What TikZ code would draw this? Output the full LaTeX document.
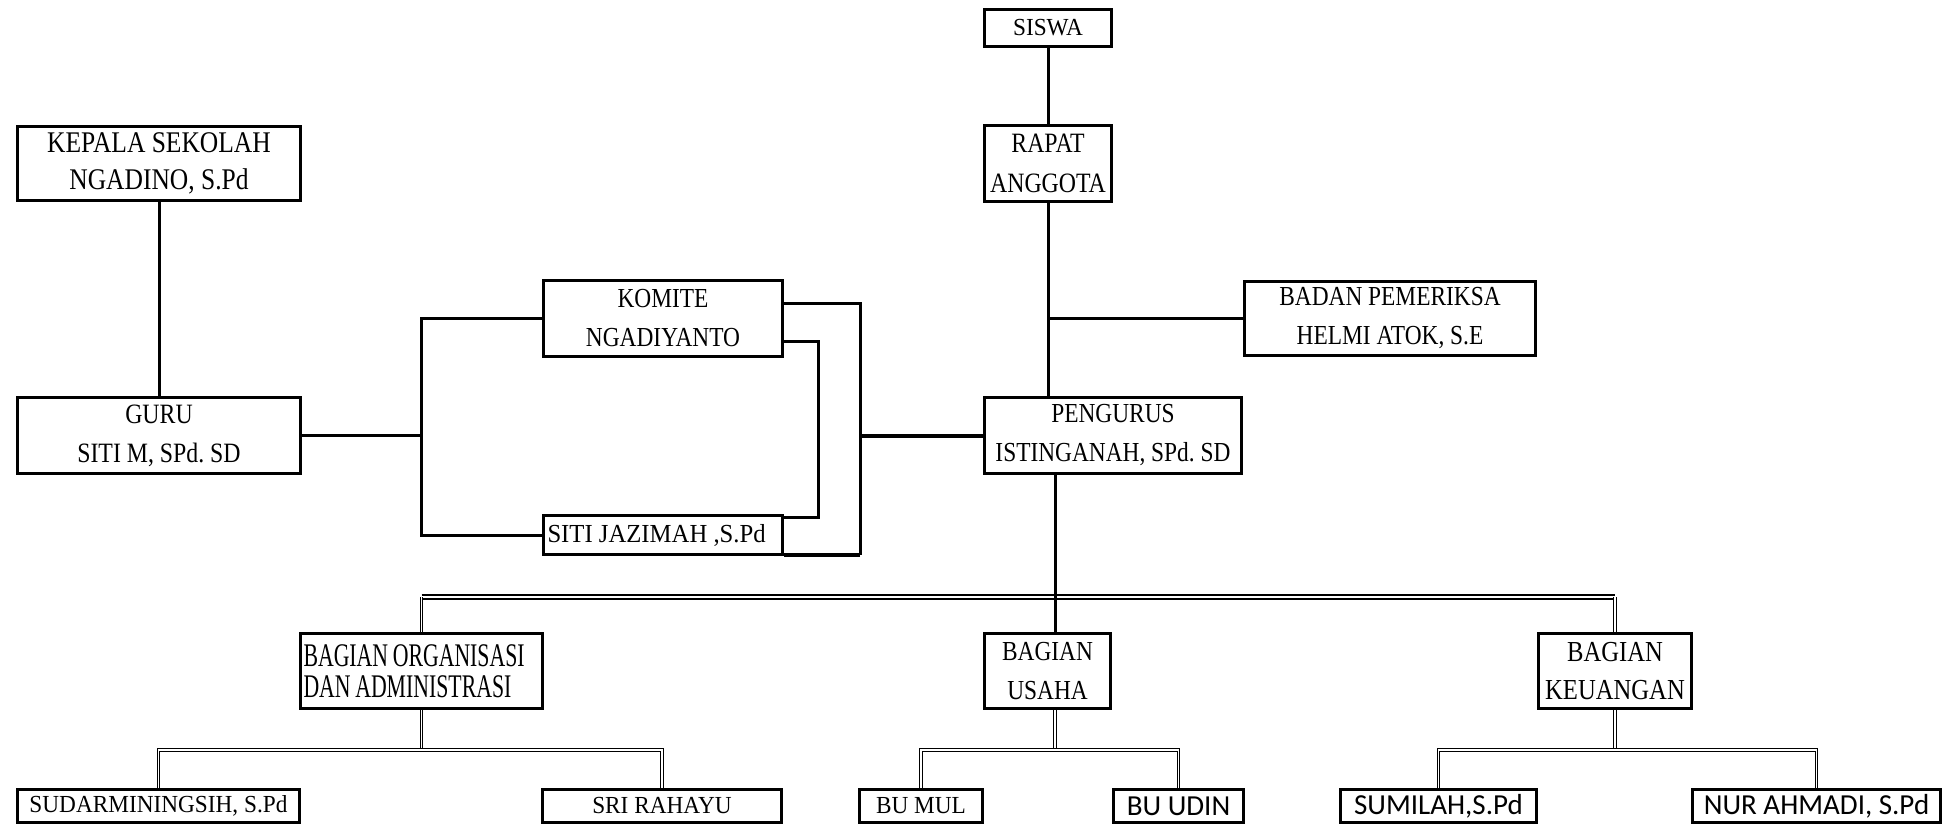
\documentclass[tikz,border=0pt]{standalone}
\usepackage{fontspec}
\setmainfont{Liberation Serif}[FakeStretch=0.85]
\newfontfamily\narrowserif{Liberation Serif}[FakeStretch=0.66, WordSpace=0.85]
\newfontfamily\wideserif{Liberation Serif}[FakeStretch=0.95]
\newfontfamily\calsans{Carlito}
\usetikzlibrary{calc, positioning}
\frenchspacing

\begin{document}
\begin{tikzpicture}[x=1pt, y=-1pt,
    box/.style={draw, line width=3pt, inner sep=0pt, align=center, font=\fontsize{27.5}{39}\selectfont},
    lowbox/.style={box, minimum height=33pt, font=\wideserif\fontsize{24.5}{30}\selectfont},
    calbox/.style={box, minimum height=33pt, font=\calsans\fontsize{29}{34}\selectfont},
    conn/.style={line width=3pt},
    connthick/.style={line width=4pt},
    dbl/.style={double, double distance=1.3pt, line width=1.1pt},
    bigbar/.style={double, double distance=1.2pt, line width=2pt}]
    \useasboundingbox (0,0) rectangle (1943,826);

    % kotak atas
    \node[box, minimum width=127pt, minimum height=37pt, font=\wideserif\fontsize{24.5}{30}\selectfont] (siswa) at (1048,28) {SISWA};
    \node[box, minimum width=127pt, minimum height=76pt, font=\fontsize{28}{40}\selectfont] (rapat) at (1048,163.5) {RAPAT\\ANGGOTA};
    \node[box, minimum width=283pt, minimum height=74pt, font=\fontsize{30}{37}\selectfont] (kepala) at (159,163.5) {KEPALA SEKOLAH\\NGADINO, S.Pd};
    \node[box, minimum width=239pt, minimum height=76pt] (komite) at (663,318.5) {KOMITE\\NGADIYANTO};
    \node[box, minimum width=291pt, minimum height=74pt] (badan) at (1390,318.5) {BADAN PEMERIKSA\\HELMI ATOK, S.E};
    \node[box, minimum width=283pt, minimum height=76pt, font=\fontsize{28}{39}\selectfont] (guru) at (159,435.5) {GURU\\SITI M, SPd. SD};
    \node[box, minimum width=257pt, minimum height=76pt] (pengurus) at (1113,435.5) {PENGURUS\\ISTINGANAH, SPd. SD};
    \node[box, text width=231pt, inner xsep=4pt, align=flush left, minimum height=39pt, font=\wideserif\fontsize{26}{30}\selectfont] (siti) at (663,535) {SITI JAZIMAH ,S.Pd};

    % bagian
    \node[box, text width=236pt, inner xsep=3pt, align=flush left, minimum height=75pt, font=\narrowserif\fontsize{33}{31}\selectfont] (org) at (421.5,671) {BAGIAN ORGANISASI\\DAN ADMINISTRASI};
    \node[box, minimum width=126pt, minimum height=75pt] (usaha) at (1047.5,671) {BAGIAN\\USAHA};
    \node[box, minimum width=153pt, minimum height=75pt, font=\fontsize{29}{38}\selectfont] (keu) at (1615,671) {BAGIAN\\KEUANGAN};

    % anggota bagian
    \node[lowbox, minimum width=282pt] (sudar) at (158.5,806) {SUDARMININGSIH, S.Pd};
    \node[lowbox, minimum width=239pt] (sri) at (662,806) {SRI RAHAYU};
    \node[lowbox, minimum width=123pt] (bumul) at (921,806) {BU MUL};
    \node[calbox, minimum width=130pt] (buudin) at (1178.5,806) {BU UDIN};
    \node[calbox, minimum width=196pt] (sumilah) at (1438.5,806) {SUMILAH,S.Pd};
    \node[calbox, minimum width=248pt] (nur) at (1816.5,806) {NUR AHMADI, S.Pd};

    % garis atas
    \draw[conn] (siswa) -- (rapat);
    \draw[conn] (rapat.south) -- (rapat.south |- pengurus.north);
    \draw[conn] (rapat.south |- badan.west) -- (badan.west);
    \draw[conn] (kepala) -- (guru);

    \coordinate (kiri) at (421,435.5);
    \coordinate (luar) at (860,555);
    \coordinate (dalam) at (818,517);
    \draw[conn] (guru.east) -- (kiri |- guru.east);
    \draw[conn] (komite.west) -| (kiri) |- (siti.west);
    \draw[conn] ([yshift=15.5pt]komite.east) -| (luar);
    \draw[connthick] (luar) -- (luar -| siti.east);
    \draw[conn] ([yshift=-22.5pt]komite.east) -| (dalam) -- (dalam -| siti.east);
    \draw[connthick] (luar |- pengurus.west) -- (pengurus.west);

    % garis bawah
    \coordinate (bar) at (0,597);
    \coordinate (sub) at (0,750);
    \coordinate (pu) at ([xshift=7.5pt]usaha.north);
    \draw[bigbar] (org.north |- bar) -- (keu.north |- bar);
    \draw[dbl] (org.north |- bar) -- (org.north);
    \draw[dbl] (keu.north |- bar) -- (keu.north);
    \draw[conn] (pu |- pengurus.south) -- (pu);

    \draw[dbl] (org.south) -- (org.south |- sub);
    \draw[dbl] (sudar.north) |- (sri.north |- sub) -- (sri.north);
    \draw[dbl] (pu |- usaha.south) -- (pu |- sub);
    \draw[dbl] (bumul.north) |- (buudin.north |- sub) -- (buudin.north);
    \draw[dbl] (keu.south) -- (keu.south |- sub);
    \draw[dbl] (sumilah.north) |- (nur.north |- sub) -- (nur.north);
\end{tikzpicture}
\end{document}
